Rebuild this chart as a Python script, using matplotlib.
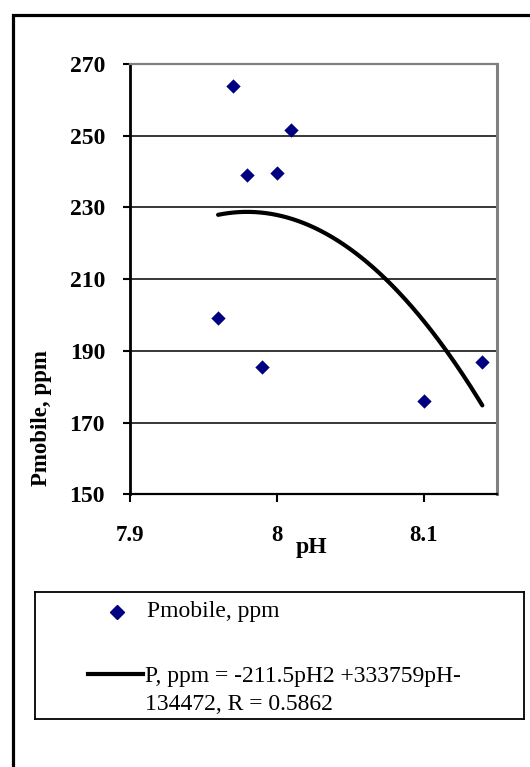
import numpy as np
import matplotlib
matplotlib.use("Agg")
import matplotlib.pyplot as plt
from matplotlib.patches import Rectangle

# Data
ph = [7.96, 7.97, 7.98, 7.99, 8.00, 8.01, 8.10, 8.14]
pmobile = [199.3, 264.0, 239.0, 185.4, 239.7, 251.5, 176.0, 186.8]
x_ticks = [7.9, 8.0, 8.1]
x_ticklabels = ['7.9', '8', '8.1']
y_ticks = [150, 170, 190, 210, 230, 250, 270]

series_label = 'Pmobile, ppm'
trend_label = 'P, ppm = -211.5pH2 +333759pH-\n134472, R = 0.5862'

plt.rcParams['font.family'] = ['Liberation Serif', 'DejaVu Serif']

W, H = 530, 767
fig = plt.figure(figsize=(W / 100, H / 100), dpi=100)

# outer frame (runs off the right and bottom edges)
fig.patches.append(Rectangle((12.8 / W, -0.1), 1.2, 1 - 15.3 / H + 0.1,
                             transform=fig.transFigure, fill=False,
                             edgecolor='black', linewidth=2.3))

ax = fig.add_axes([130 / W, 1 - 494.3 / H, 367 / W, 430.3 / H])

# polynomial (order 2) trendline fitted to the points
coef = np.polyfit(ph, pmobile, 2)
xs = np.linspace(min(ph), max(ph), 200)
ax.plot(xs, np.polyval(coef, xs), color='black', linewidth=3, zorder=3,
        solid_capstyle='round')
ax.scatter(ph, pmobile, marker='D', s=7.3 ** 2, color='#000080', zorder=4,
           linewidths=0)

ax.set_xlim(7.9, 8.15)
ax.set_ylim(150, 270)
ax.set_xticks(x_ticks)
ax.set_xticklabels(x_ticklabels)
ax.set_yticks(y_ticks)

for y in y_ticks[1:-1]:
    ax.axhline(y, color='black', linewidth=1.1, zorder=1)

ax.spines['left'].set_linewidth(2)
ax.spines['bottom'].set_linewidth(1.6)
ax.spines['top'].set_color('#808080')
ax.spines['right'].set_color('#808080')
ax.spines['top'].set_linewidth(1.6)
ax.spines['right'].set_linewidth(2.2)

ax.tick_params(axis='y', direction='out', length=5, width=1.5, pad=13,
               labelsize=17)
ax.tick_params(axis='x', direction='out', length=6, width=1.5, pad=16,
               labelsize=16.5)
for lab in ax.get_xticklabels() + ax.get_yticklabels():
    lab.set_fontweight('bold')

fig.text(42 / W, 1 - 418 / H, 'Pmobile, ppm', rotation=90, fontsize=16.5,
         fontweight='bold', ha='center', va='center')
fig.text(312 / W, 1 - 548 / H, 'pH', fontsize=17, fontweight='bold',
         ha='center', va='center')

# legend box
lax = fig.add_axes([35 / W, 1 - 719 / H, 489 / W, 127 / H])
lax.set_xlim(0, 1)
lax.set_ylim(0, 1)
lax.set_xticks([])
lax.set_yticks([])
for s in lax.spines.values():
    s.set_linewidth(1.3)
lax.plot([0.168], [0.843], marker='D', markersize=7, color='#000080',
         linestyle='none')
lax.text(0.229, 0.843, series_label, fontsize=17, ha='left', va='center')
lax.plot([0.108, 0.221], [0.354, 0.354], color='black', linewidth=3)
lax.text(0.225, 0.225, trend_label, fontsize=17, ha='left', va='center',
         linespacing=1.45)

fig.savefig('out.png', dpi=100)
